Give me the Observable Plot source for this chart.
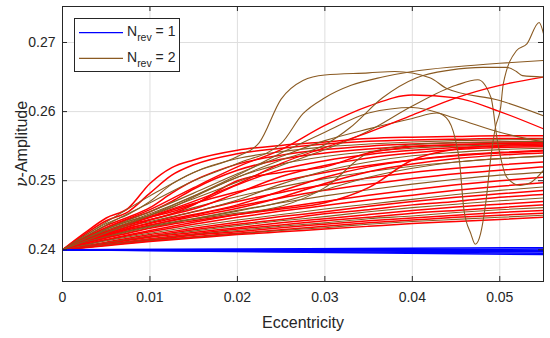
<!DOCTYPE html>
<html><head><meta charset="utf-8">
<script src="https://cdn.jsdelivr.net/npm/d3@7"></script>
<script src="https://cdn.jsdelivr.net/npm/@observablehq/plot@0.6"></script>
<style>
body{margin:0;background:#fff;}
#wrap{position:relative;width:550px;height:338px;font-family:'Liberation Sans',Arial,Helvetica,sans-serif;}
#legend{position:absolute;left:74px;top:18px;}
</style></head><body>
<div id="wrap"></div>
<script>
// ---- axis ticks / labels ----
const xTicks = [0, 0.01, 0.02, 0.03, 0.04, 0.05];
const xTickLabels = ["0", "0.01", "0.02", "0.03", "0.04", "0.05"];
const yTicks = [0.24, 0.25, 0.26, 0.27];
const yTickLabels = ["0.24", "0.25", "0.26", "0.27"];
const xLabel = "Eccentricity";
const yLabel = "ν-Amplitude";
const legendLabels = ["1", "2"];

// ---- eccentricity grids ----
const lGrid = [0, 0.005, 0.01, 0.015, 0.02, 0.025, 0.03, 0.035, 0.04, 0.045, 0.05, 0.055];
const sGrid = [0, 0.0025, 0.005, 0.0075, 0.01, 0.0125, 0.015, 0.02, 0.025, 0.03, 0.035, 0.04, 0.045, 0.05, 0.055];

// ---- N_rev = 2 : lower bundle (on lGrid) ----
const lowerSeries = [
  [0.24,0.2411,0.2422,0.2431,0.2440,0.2448,0.2455,0.2463,0.2470,0.2476,0.2481,0.2486],
  [0.24,0.2410,0.2420,0.2429,0.2437,0.2444,0.2452,0.2458,0.2465,0.2470,0.2476,0.2480],
  [0.24,0.2410,0.2419,0.2427,0.2435,0.2442,0.2448,0.2455,0.2461,0.2466,0.2471,0.2475],
  [0.24,0.2409,0.2418,0.2425,0.2432,0.2439,0.2445,0.2451,0.2457,0.2462,0.2466,0.2470],
  [0.24,0.2408,0.2416,0.2423,0.2430,0.2436,0.2442,0.2447,0.2453,0.2457,0.2461,0.2465],
  [0.24,0.2408,0.2415,0.2422,0.2428,0.2434,0.2439,0.2445,0.2449,0.2454,0.2458,0.2461],
  [0.24,0.2407,0.2414,0.2421,0.2426,0.2432,0.2437,0.2442,0.2446,0.2450,0.2454,0.2457],
  [0.24,0.2407,0.2413,0.2419,0.2424,0.2429,0.2434,0.2439,0.2443,0.2447,0.2450,0.2453],
  [0.24,0.2407,0.2413,0.2418,0.2423,0.2428,0.2432,0.2437,0.2441,0.2444,0.2447,0.2450],
  [0.24,0.2406,0.2412,0.2417,0.2422,0.2426,0.2430,0.2434,0.2438,0.2441,0.2444,0.2447]
];
// ---- N_rev = 2 : middle bundle (on lGrid) ----
const midSeries = [
  [0.24,0.2425,0.2447,0.2467,0.2484,0.2499,0.2512,0.2522,0.2530,0.2536,0.2540,0.2543],
  [0.24,0.2423,0.2443,0.2461,0.2477,0.2491,0.2503,0.2513,0.2521,0.2527,0.2532,0.2535],
  [0.24,0.2421,0.2439,0.2455,0.2470,0.2483,0.2494,0.2504,0.2512,0.2518,0.2523,0.2527],
  [0.24,0.2419,0.2435,0.2450,0.2463,0.2475,0.2486,0.2495,0.2503,0.2510,0.2515,0.2520],
  [0.24,0.2417,0.2432,0.2445,0.2457,0.2468,0.2478,0.2487,0.2495,0.2502,0.2508,0.2512],
  [0.24,0.2415,0.2428,0.2440,0.2451,0.2461,0.2470,0.2479,0.2487,0.2494,0.2500,0.2505],
  [0.24,0.2414,0.2426,0.2437,0.2447,0.2456,0.2464,0.2472,0.2479,0.2486,0.2492,0.2497],
  [0.24,0.2413,0.2424,0.2434,0.2443,0.2451,0.2459,0.2466,0.2473,0.2480,0.2486,0.2491]
];
// ---- N_rev = 2 : plateau bundle (on sGrid) ----
const plateauSeries = [
  [0.24,0.2424,0.2446,0.2460,0.2496,0.2519,0.2530,0.2544,0.2551,0.2556,0.2561,0.2563,0.2564,0.2565,0.2565],
  [0.24,0.2422,0.2442,0.2455,0.2482,0.2508,0.2523,0.2539,0.2547,0.2553,0.2557,0.2559,0.2560,0.2561,0.2561],
  [0.24,0.2420,0.2438,0.2451,0.2470,0.2495,0.2512,0.2532,0.2542,0.2549,0.2553,0.2556,0.2558,0.2559,0.2560],
  [0.24,0.2418,0.2435,0.2447,0.2461,0.2482,0.2500,0.2524,0.2537,0.2545,0.2550,0.2553,0.2555,0.2556,0.2557],
  [0.24,0.2417,0.2432,0.2444,0.2455,0.2470,0.2488,0.2515,0.2531,0.2540,0.2546,0.2550,0.2552,0.2554,0.2555],
  [0.24,0.2416,0.2430,0.2441,0.2450,0.2461,0.2476,0.2505,0.2524,0.2535,0.2542,0.2547,0.2550,0.2552,0.2553],
  [0.24,0.2415,0.2428,0.2438,0.2447,0.2455,0.2466,0.2494,0.2516,0.2529,0.2538,0.2544,0.2548,0.2550,0.2551],
  [0.24,0.2414,0.2426,0.2436,0.2444,0.2451,0.2459,0.2482,0.2506,0.2522,0.2533,0.2540,0.2545,0.2548,0.2549],
  [0.24,0.2413,0.2424,0.2434,0.2441,0.2448,0.2455,0.2472,0.2495,0.2514,0.2527,0.2536,0.2541,0.2545,0.2547],
  [0.24,0.2412,0.2422,0.2431,0.2438,0.2445,0.2451,0.2465,0.2485,0.2505,0.2520,0.2530,0.2537,0.2541,0.2544],
  [0.24,0.2411,0.2420,0.2429,0.2436,0.2442,0.2448,0.2460,0.2476,0.2496,0.2513,0.2524,0.2532,0.2537,0.2540],
  [0.24,0.2410,0.2419,0.2427,0.2434,0.2440,0.2445,0.2456,0.2469,0.2487,0.2505,0.2518,0.2527,0.2532,0.2536]
];
// ---- N_rev = 2 : late risers (on sGrid) ----
const lateSeries = [
  [0.24,0.2410,0.2418,0.2426,0.2433,0.2439,0.2444,0.2453,0.2463,0.2490,0.2540,0.2552,0.2555,0.2556,0.2557],
  [0.24,0.2409,0.2417,0.2424,0.2431,0.2437,0.2442,0.2451,0.2459,0.2468,0.2490,0.2530,0.2546,0.2551,0.2553],
  [0.24,0.2412,0.2423,0.2433,0.2443,0.2452,0.2465,0.2500,0.2512,0.2520,0.2540,0.2549,0.2552,0.2554,0.2555]
];
// ---- N_rev = 2 : irregular curves (own x) ----
const wildX = [
  [0,0.005,0.01,0.015,0.02,0.0225,0.025,0.0275,0.03,0.035,0.038,0.042,0.044,0.05,0.055],
  [0,0.005,0.01,0.015,0.02,0.025,0.0275,0.03,0.033,0.0366,0.04,0.045,0.05,0.055],
  [0,0.005,0.01,0.015,0.02,0.025,0.03,0.035,0.04,0.0428,0.0439,0.0449,0.0454,0.0459,0.0467,0.0472,0.0478,0.0484,0.049,0.0495,0.0501,0.0504,0.0519,0.0531,0.0545,0.055],
  [0,0.005,0.01,0.015,0.02,0.025,0.03,0.035,0.04,0.045,0.0475,0.049,0.0497,0.0508,0.0523,0.0535,0.055],
  [0,0.005,0.01,0.015,0.02,0.025,0.03,0.035,0.04,0.045,0.05,0.055],
  [0,0.005,0.01,0.015,0.02,0.025,0.03,0.035,0.04,0.045,0.05,0.055],
  [0,0.005,0.01,0.015,0.02,0.025,0.03,0.035,0.04,0.045,0.05,0.055],
  [0,0.01,0.02,0.025,0.03,0.0329,0.0366,0.0405,0.0443,0.0481,0.0508,0.0519,0.0526,0.055]
];
const wildY = [
  [0.24,0.2440,0.2478,0.2512,0.2535,0.2555,0.2618,0.2645,0.2653,0.2656,0.2658,0.2649,0.2633,0.2616,0.2594],
  [0.24,0.2436,0.2468,0.2500,0.2525,0.2554,0.2597,0.2620,0.2638,0.2650,0.2658,0.2665,0.2670,0.2674],
  [0.24,0.2430,0.2455,0.2482,0.2510,0.2535,0.2558,0.2575,0.2590,0.2598,0.2591,0.2561,0.2527,0.2458,0.2423,0.2408,0.2423,0.2468,0.2536,0.2577,0.2606,0.2640,0.2688,0.2698,0.2729,0.2713],
  [0.24,0.2428,0.2450,0.2474,0.2498,0.2522,0.2545,0.2572,0.2608,0.2638,0.2646,0.2620,0.2560,0.2505,0.2493,0.2497,0.2515],
  [0.24,0.2432,0.2458,0.2490,0.2520,0.2545,0.2580,0.2608,0.2624,0.2620,0.2600,0.2575],
  [0.24,0.2426,0.2448,0.2470,0.2495,0.2525,0.2548,0.2570,0.2595,0.2620,0.2638,0.2650],
  [0.24,0.2430,0.2452,0.2478,0.2508,0.2540,0.2570,0.2598,0.2606,0.2590,0.2570,0.2556],
  [0.24,0.2450,0.2505,0.2530,0.2552,0.2577,0.2620,0.2649,0.2660,0.2664,0.2664,0.2658,0.2652,0.2650]
];
const wildColor = ["brown","brown","brown","brown","red","red","brown","brown"];

// ---- N_rev = 1 ----
const blueX = [0, 0.055];
const blueStart = 0.24;
const blueEnd = [0.2403, 0.2401, 0.2399, 0.2397, 0.2395, 0.2393];

// ---- styling ----
const RED = "#ff0000", BROWN = "#8a5a22", BLUE = "#0000ff", INK = "#262626";
const W = 550, H = 338, ML = 62, MR = 7, MT = 6, MB = 57;
const FW = W - ML - MR, FH = H - MT - MB;

const toRows = (xs, ys) => xs.map((x, i) => ({x, y: ys[i]}));
const lineMark = (rows, color, sw) => Plot.line(rows, {x: "x", y: "y", stroke: color, strokeWidth: sw, curve: "monotone-x", clip: true});
// two red lines for every brown one inside the bundles
const bundleColor = i => (i % 3 === 2 ? BROWN : RED);
const bundleWidth = i => (i % 3 === 2 ? 1.1 : 1.5);

const marks = [
  Plot.gridX(xTicks, {stroke: "#dedede", strokeOpacity: 1}),
  Plot.gridY(yTicks, {stroke: "#dedede", strokeOpacity: 1})
];
lowerSeries.forEach((ys, i) => marks.push(lineMark(toRows(lGrid, ys), bundleColor(i), bundleWidth(i))));
midSeries.forEach((ys, i) => marks.push(lineMark(toRows(lGrid, ys), bundleColor(i + 1), bundleWidth(i + 1))));
plateauSeries.forEach((ys, i) => marks.push(lineMark(toRows(sGrid, ys), bundleColor(i), bundleWidth(i))));
lateSeries.forEach((ys, i) => marks.push(lineMark(toRows(sGrid, ys), bundleColor(i + 2), bundleWidth(i + 2))));
wildX.forEach((xs, i) => marks.push(lineMark(toRows(xs, wildY[i]), wildColor[i] === "red" ? RED : BROWN, wildColor[i] === "red" ? 1.3 : 1.1)));
blueEnd.forEach(e => marks.push(lineMark(toRows(blueX, [blueStart, e]), BLUE, 1.5)));

marks.push(
  Plot.frame({stroke: INK, strokeWidth: 1}),
  Plot.tickX(xTicks, {x: d => d, insetTop: FH - 5, stroke: INK}),
  Plot.tickX(xTicks, {x: d => d, insetBottom: FH - 5, stroke: INK}),
  Plot.tickY(yTicks, {y: d => d, insetRight: FW - 5, stroke: INK}),
  Plot.tickY(yTicks, {y: d => d, insetLeft: FW - 5, stroke: INK}),
  Plot.axisX(xTicks, {anchor: "bottom", tickSize: 0, tickPadding: 11, fontSize: 14, label: null, tickFormat: d => xTickLabels[xTicks.indexOf(d)]}),
  Plot.axisY(yTicks, {anchor: "left", tickSize: 0, tickPadding: 7, fontSize: 14, label: null, tickFormat: d => yTickLabels[yTicks.indexOf(d)]}),
  Plot.text([xLabel], {frameAnchor: "bottom", text: d => d, dy: 35, lineAnchor: "top", textAnchor: "middle", fontSize: 16, fill: INK}),
  Plot.text([yLabel], {frameAnchor: "left", text: d => d, dx: -41, rotate: -90, lineAnchor: "middle", textAnchor: "middle", fontSize: 16, fill: INK})
);

const chart = Plot.plot({
  width: W, height: H,
  marginLeft: ML, marginRight: MR, marginTop: MT, marginBottom: MB,
  style: {fontFamily: "'Liberation Sans', Arial, Helvetica, sans-serif", background: "white", color: INK, overflow: "visible"},
  x: {domain: [0, 0.055]},
  y: {domain: [0.23541, 0.27521]},
  marks
});

// italic Greek nu in y label
d3.select(chart).selectAll("text").filter(function () { return this.textContent === yLabel; }).each(function () {
  const t = d3.select(this);
  t.text(null);
  t.append("tspan").attr("font-style", "italic").attr("font-family", "'DejaVu Serif', 'Liberation Serif', serif").text("ν");
  t.append("tspan").text("-Amplitude");
});

const wrap = document.getElementById("wrap");
wrap.appendChild(chart);

// legend
const lg = d3.select(wrap).append("svg").attr("id", "legend").attr("width", 107).attr("height", 55);
lg.append("rect").attr("x", 0.5).attr("y", 0.5).attr("width", 105).attr("height", 53)
  .attr("fill", "white").attr("stroke", INK).attr("stroke-width", 1);
[[BLUE, legendLabels[0], 14.7, 18], [BROWN, legendLabels[1], 40.3, 43.7]].forEach(([c, lab, ly, by]) => {
  lg.append("line").attr("x1", 5).attr("x2", 49).attr("y1", ly).attr("y2", ly).attr("stroke", c).attr("stroke-width", 1.2);
  const t = lg.append("text").attr("x", 53).attr("y", by).attr("font-size", 14).attr("fill", INK)
    .attr("font-family", "'Liberation Sans', Arial, sans-serif");
  t.append("tspan").text("N");
  t.append("tspan").attr("dy", 5).attr("font-size", 10.5).text("rev");
  t.append("tspan").attr("dy", -5).text(" = " + lab);
});
</script>
</body></html>
